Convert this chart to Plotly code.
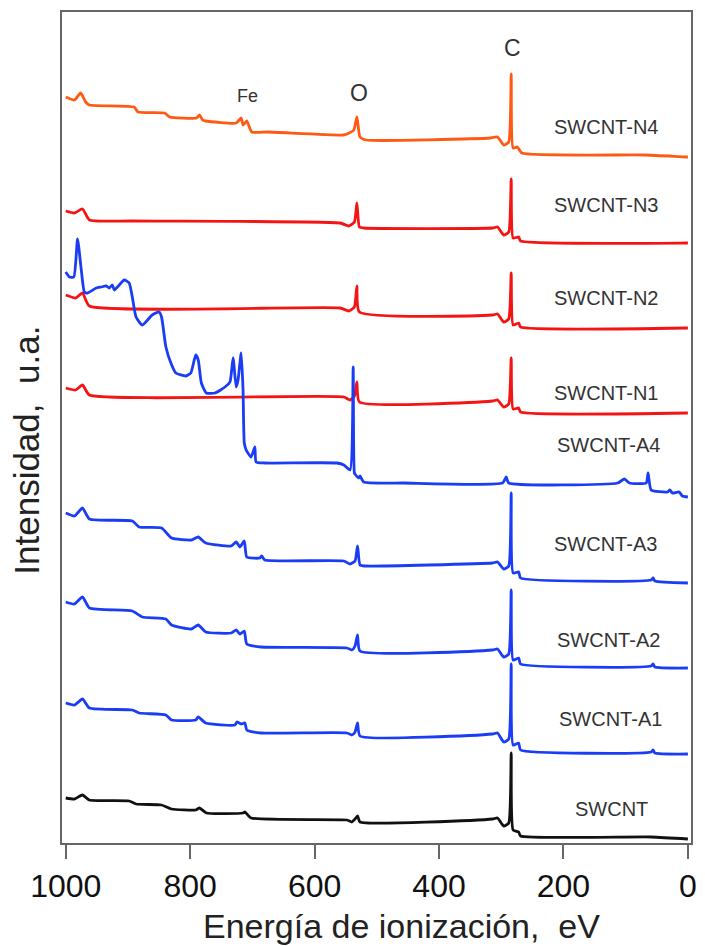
import plotly.graph_objects as go

# ---------------- data (binding energy in eV, intensity in a.u.) ----------------
E_N4 = [1000, 986, 976, 968, 962, 890, 884, 841, 833, 790, 785, 780, 775, 726, 718, 715, 709, 701, 675,
        554, 548, 537, 532, 527, 517, 317, 306, 296, 288, 284, 281, 274, 267, 67, 3, 0]
I_N4 = [746, 743, 750, 741, 738, 736, 731, 730, 726, 725, 728, 723, 722, 720, 725, 718, 722, 711, 711,
        708, 709, 713, 726, 706, 703, 705, 706, 698, 701, 769, 695, 696, 690, 688, 686, 686]

E_N3 = [1000, 986, 973, 962, 893, 559, 545, 536, 532, 528, 521, 314, 306, 296, 288, 284, 281, 272, 269, 2, 0]
I_N3 = [632, 630, 634, 623, 622, 620, 617, 621, 640, 616, 615, 615, 616, 608, 611, 664, 605, 606, 602, 600, 600]

E_N2 = [1000, 984, 973, 962, 559, 545, 536, 532, 528, 314, 306, 296, 288, 284, 281, 272, 269, 0]
I_N2 = [548, 545, 550, 537, 535, 532, 536, 557, 531, 528, 529, 521, 524, 570, 518, 520, 516, 515]

E_N1 = [1000, 984, 973, 962, 553, 543, 536, 532, 528, 314, 306, 296, 288, 284, 281, 272, 269, 0]
I_N1 = [455, 453, 458, 448, 446, 443, 447, 461, 441, 442, 443, 436, 439, 485, 434, 435, 431, 430]

E_A4 = [1000, 994, 987, 981, 975, 970, 965, 951, 943, 935, 930, 925, 922, 914, 906, 898, 893, 887, 877,
        861, 850, 846, 839, 831, 823, 807, 799, 791, 787, 782, 774, 760, 744, 736, 731, 726, 723, 718,
        715, 713, 710, 702, 696, 694, 680, 564, 553, 543, 538, 536, 534, 529, 527, 521, 457, 298, 292,
        288, 113, 102, 94, 67, 64, 59, 33, 29, 25, 14, 9, 0]
I_A4 = [571, 566, 566, 604, 573, 551, 550, 555, 556, 557, 555, 558, 553, 558, 563, 560, 546, 526, 518,
        528, 531, 526, 496, 480, 470, 467, 470, 488, 483, 460, 450, 450, 456, 461, 485, 456, 463, 490,
        453, 400, 393, 386, 396, 381, 380, 380, 378, 373, 476, 370, 368, 365, 367, 361, 360, 360, 366,
        360, 360, 364, 360, 360, 370, 353, 351, 353, 350, 351, 347, 346]

E_A3 = [1000, 986, 973, 962, 893, 882, 846, 830, 798, 787, 775, 734, 726, 720, 713, 709, 688, 685, 680,
        553, 543, 535, 531, 527, 519, 314, 306, 296, 288, 284, 281, 272, 269, 59, 56, 53, 0]
I_A3 = [330, 327, 335, 324, 322, 316, 315, 305, 303, 306, 300, 297, 301, 296, 302, 286, 285, 287, 283,
        282, 279, 282, 297, 278, 277, 280, 281, 274, 277, 350, 270, 271, 265, 263, 265, 262, 260]

E_A2 = [1000, 986, 973, 962, 893, 877, 839, 830, 798, 787, 775, 734, 726, 720, 713, 709, 686, 548, 540,
        535, 531, 527, 314, 306, 296, 288, 284, 281, 272, 269, 59, 56, 53, 0]
I_A2 = [241, 239, 246, 235, 232, 226, 224, 218, 214, 218, 211, 210, 213, 209, 212, 199, 196, 195, 193,
        197, 208, 192, 193, 194, 186, 189, 253, 183, 185, 179, 177, 179, 176, 175]

E_A1 = [1000, 986, 973, 962, 893, 882, 839, 830, 791, 787, 775, 728, 725, 718, 712, 709, 686, 548, 540,
        535, 531, 527, 314, 306, 296, 288, 284, 281, 272, 269, 59, 56, 53, 0]
I_A1 = [140, 138, 144, 135, 133, 130, 128, 123, 123, 126, 120, 118, 121, 119, 120, 113, 110, 110, 108,
        111, 120, 107, 109, 110, 101, 104, 179, 98, 100, 93, 91, 93, 90, 89]

E_SW = [1000, 986, 973, 962, 898, 887, 846, 830, 791, 785, 774, 715, 712, 702, 548, 540, 535, 531, 527,
        314, 306, 296, 288, 284, 281, 272, 269, 59, 0]
I_SW = [45, 44, 48, 43, 42, 39, 38, 34, 33, 35, 30, 30, 31, 25, 23, 21, 24, 27, 21,
        24, 25, 17, 20, 90, 13, 11, 7, 6, 4]

SERIES = ["SWCNT-N4", "SWCNT-N3", "SWCNT-N2", "SWCNT-N1", "SWCNT-A4", "SWCNT-A3", "SWCNT-A2", "SWCNT-A1", "SWCNT"]
LABEL_E = [132, 132, 132, 132, 127, 132, 127, 124, 123]
LABEL_I = [716, 638, 545, 450, 398, 299, 203, 124, 34]

PEAKS = ["C", "O", "Fe"]
PEAK_E = [282, 529, 708]
PEAK_I = [795, 750, 747]

X_TICKS = [1000, 800, 600, 400, 200, 0]

# ---------------- figure ----------------
ORANGE = "#ff5a14"
RED = "#f51414"
BLUE = "#1a3cf5"
BLACK = "#111111"

traces = [
    (E_N4, I_N4, ORANGE), (E_N3, I_N3, RED), (E_N2, I_N2, RED), (E_N1, I_N1, RED),
    (E_A4, I_A4, BLUE), (E_A3, I_A3, BLUE), (E_A2, I_A2, BLUE), (E_A1, I_A1, BLUE),
    (E_SW, I_SW, BLACK),
]

fig = go.Figure()
for (ex, iy, col), name in zip(traces, SERIES):
    fig.add_trace(go.Scatter(x=ex, y=iy, mode="lines", name=name,
                             line=dict(color=col, width=2.8, shape="spline", smoothing=0.5),
                             showlegend=False))

FONT = "Liberation Sans, Arial, sans-serif"
for name, ex, iy in zip(SERIES, LABEL_E, LABEL_I):
    fig.add_annotation(x=ex, y=iy, text=name, showarrow=False, xanchor="center", yanchor="middle",
                       font=dict(family=FONT, size=20, color="#333333"))
for name, ex, iy in zip(PEAKS, PEAK_E, PEAK_I):
    fig.add_annotation(x=ex, y=iy, text=name, showarrow=False, xanchor="center", yanchor="middle",
                       font=dict(family=FONT, size=18 if name == "Fe" else 23, color="#333333"))

# axis titles
fig.add_annotation(x=0.54, y=-0.1, xref="paper", yref="paper", text="Energía de ionización,  eV",
                   showarrow=False, xanchor="center", yanchor="middle",
                   font=dict(family=FONT, size=34, color="#222222"))
fig.add_annotation(x=-0.056, y=0.473, xref="paper", yref="paper", text="Intensidad,  u.a.",
                   showarrow=False, textangle=-90, xanchor="center", yanchor="middle",
                   font=dict(family=FONT, size=35, color="#222222"))

fig.update_layout(
    width=705, height=947,
    margin=dict(l=62, r=8, t=12, b=104),
    paper_bgcolor="white", plot_bgcolor="white",
    xaxis=dict(range=[1006, -5], tickvals=X_TICKS, ticks="outside", ticklen=14, tickwidth=2,
               tickcolor="#666666", showline=True, linecolor="#666666", linewidth=2, mirror=True,
               showgrid=False, zeroline=False,
               tickfont=dict(family=FONT, size=32, color="#111111")),
    yaxis=dict(range=[0, 831], showticklabels=False, ticks="", showline=True, linecolor="#666666",
               linewidth=2, mirror=True, showgrid=False, zeroline=False),
)

fig.write_html("out.html")
